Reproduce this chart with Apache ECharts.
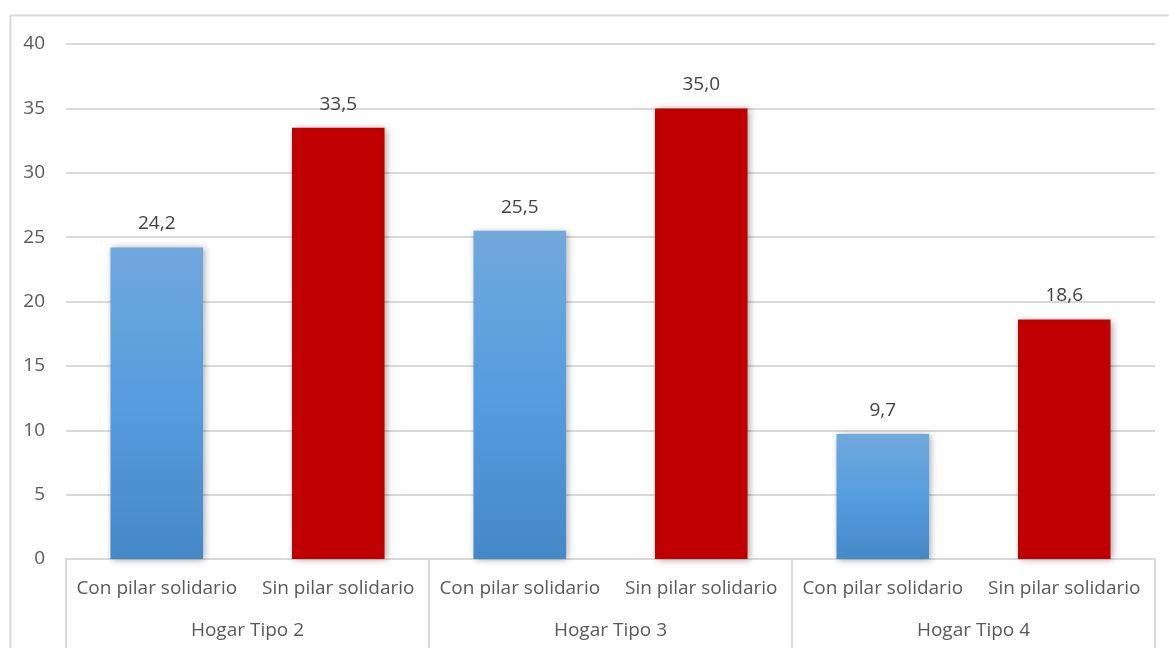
<!DOCTYPE html>
<html>
<head>
<meta charset="utf-8">
<style>
  html, body { margin: 0; padding: 0; background: #ffffff; }
  #chart { width: 1169px; height: 648px; }
</style>
<script src="https://cdn.jsdelivr.net/npm/echarts@6/dist/echarts.min.js"></script>
</head>
<body>
<div id="chart"></div>
<script>
// Household groups and the two pension scenarios
const groups = ['Hogar Tipo 2', 'Hogar Tipo 3', 'Hogar Tipo 4'];
const scenarios = ['Con pilar solidario', 'Sin pilar solidario'];
const conPilar = [24.2, 25.5, 9.7];
const sinPilar = [33.5, 35.0, 18.6];
const yTicks = { min: 0, max: 40, interval: 5 };

// Inner axis: one slot per (group, scenario) pair
const innerCats = [];
const conData = [];
const sinData = [];
groups.forEach((g, i) => {
  innerCats.push(scenarios[0], scenarios[1]);
  conData.push(conPilar[i], null);
  sinData.push(null, sinPilar[i]);
});

const FONT = '"Open Sans", "DejaVu Sans", sans-serif';
const GRID = '#d9d9d9';
const TEXT = '#595959';

const labelOpt = {
  show: true,
  position: 'top',
  distance: 14,
  color: '#404040',
  fontFamily: FONT,
  fontSize: 19,
  formatter: p => p.value.toFixed(1).replace('.', ',')
};

const shadow = {
  shadowBlur: 7,
  shadowColor: 'rgba(0,0,0,0.35)',
  shadowOffsetX: 2,
  shadowOffsetY: 1
};

const chart = echarts.init(document.getElementById('chart'), null, { renderer: 'canvas' });
chart.setOption({
  animation: false,
  backgroundColor: '#ffffff',
  graphic: [{
    type: 'rect',
    left: 8, top: 13,
    shape: { width: 1200, height: 700 },
    style: { fill: 'none', stroke: GRID, lineWidth: 2 },
    silent: true,
    z: -1
  }],
  grid: { left: 66, right: 14, top: 44, bottom: 89, containLabel: false },
  xAxis: [
    {
      type: 'category',
      data: innerCats,
      position: 'bottom',
      axisLine: { show: false },
      axisTick: { show: false },
      axisLabel: { color: TEXT, fontFamily: FONT, fontSize: 19, margin: 20, interval: 0 }
    },
    {
      type: 'category',
      data: groups,
      position: 'bottom',
      axisLine: { show: true, lineStyle: { color: GRID, width: 2 } },
      axisTick: { show: true, length: 95, lineStyle: { color: GRID, width: 2 } },
      axisLabel: { color: TEXT, fontFamily: FONT, fontSize: 19, margin: 62, interval: 0 }
    }
  ],
  yAxis: {
    type: 'value',
    min: yTicks.min,
    max: yTicks.max,
    interval: yTicks.interval,
    axisLine: { show: false },
    axisTick: { show: false },
    axisLabel: { color: TEXT, fontFamily: FONT, fontSize: 19, margin: 21 },
    splitLine: { lineStyle: { color: GRID, width: 2 } }
  },
  series: [
    {
      name: scenarios[0],
      type: 'bar',
      xAxisIndex: 0,
      data: conData,
      barWidth: '51%',
      barGap: '-100%',
      label: labelOpt,
      itemStyle: Object.assign({
        color: new echarts.graphic.LinearGradient(0, 0, 0, 1, [
          { offset: 0, color: '#71a8dc' },
          { offset: 0.5, color: '#559ddf' },
          { offset: 1, color: '#4588c8' }
        ])
      }, shadow)
    },
    {
      name: scenarios[1],
      type: 'bar',
      xAxisIndex: 0,
      data: sinData,
      barWidth: '51%',
      barGap: '-100%',
      label: labelOpt,
      itemStyle: Object.assign({ color: '#c00000' }, shadow)
    }
  ]
});
</script>
</body>
</html>
